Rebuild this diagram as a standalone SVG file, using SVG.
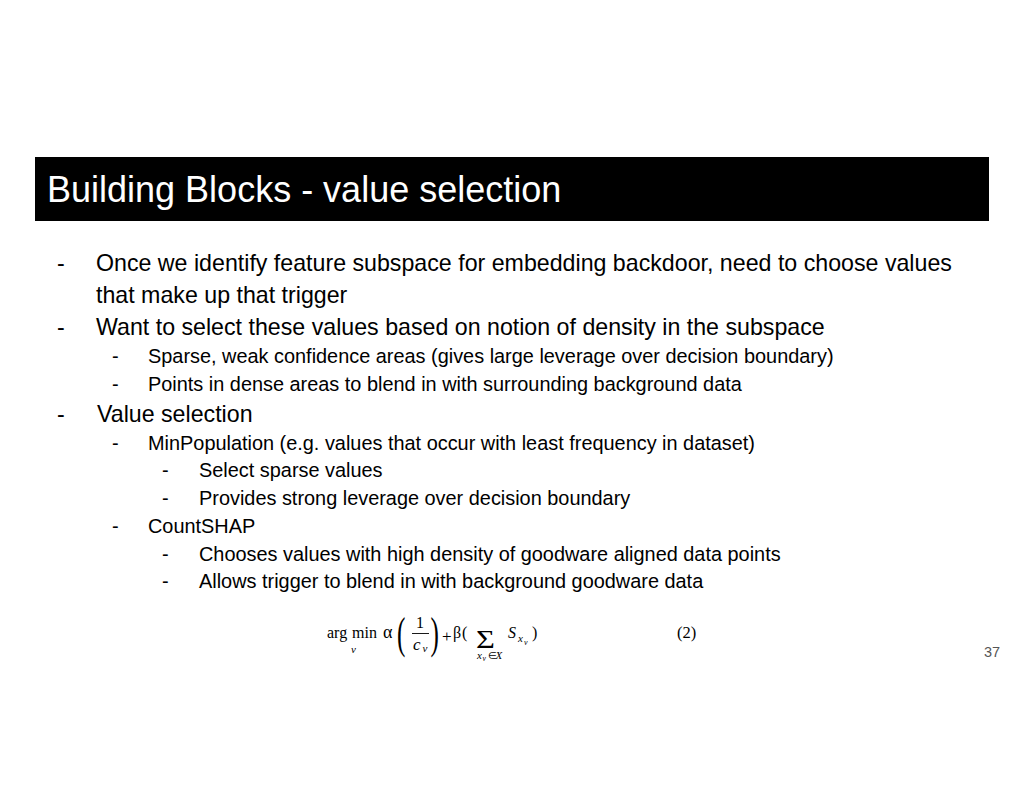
<svg xmlns="http://www.w3.org/2000/svg" width="1024" height="791" viewBox="0 0 1024 791">
<style>
.t{font-family:"Liberation Sans",Arial,sans-serif;fill:#000}
.m{font-size:23.2px}
.s{font-size:19.9px}
.f{font-family:"Liberation Serif","Times New Roman",serif;fill:#000}
.i{font-style:italic}
</style>
<rect width="1024" height="791" fill="#fff"/>
<g id="title">
<rect x="35" y="157" width="954" height="64" fill="#000"/>
<text x="47" y="202" class="t" style="font-size:36px;fill:#fff">Building Blocks - value selection</text>
</g>
<g id="bullets">
<text x="57" y="271" class="t m">-</text>
<text x="96" y="271" class="t m">Once we identify feature subspace for embedding backdoor, need to choose values</text>
<text x="96" y="303" class="t m">that make up that trigger</text>
<text x="57" y="335" class="t m">-</text>
<text x="96" y="335" class="t m">Want to select these values based on notion of density in the subspace</text>
<text x="112" y="363" class="t s">-</text>
<text x="148" y="363" class="t s">Sparse, weak confidence areas (gives large leverage over decision boundary)</text>
<text x="112" y="391" class="t s">-</text>
<text x="148" y="391" class="t s">Points in dense areas to blend in with surrounding background data</text>
<text x="57" y="422" class="t m">-</text>
<text x="97" y="422" class="t m">Value selection</text>
<text x="112" y="450" class="t s">-</text>
<text x="148" y="450" class="t s">MinPopulation (e.g. values that occur with least frequency in dataset)</text>
<text x="162" y="477" class="t s">-</text>
<text x="199" y="477" class="t s">Select sparse values</text>
<text x="162" y="505" class="t s">-</text>
<text x="199" y="505" class="t s">Provides strong leverage over decision boundary</text>
<text x="112" y="533" class="t s">-</text>
<text x="148" y="533" class="t s">CountSHAP</text>
<text x="162" y="561" class="t s">-</text>
<text x="199" y="561" class="t s">Chooses values with high density of goodware aligned data points</text>
<text x="162" y="588" class="t s">-</text>
<text x="199" y="588" class="t s">Allows trigger to blend in with background goodware data</text>
</g>
<g id="formula">
<text x="327" y="638" class="f" style="font-size:16px">arg</text>
<text x="352" y="638" class="f" style="font-size:16px">min</text>
<text x="351" y="653" class="f i" style="font-size:11px">v</text>
<text x="383" y="638" class="f" style="font-size:18px">α</text>
<text class="f" style="font-size:28px" transform="translate(397,648) scale(0.9,1.55)">(</text>
<text x="416" y="628" class="f" style="font-size:16px">1</text>
<line x1="412" y1="633.5" x2="429" y2="633.5" stroke="#000" stroke-width="0.9"/>
<text x="413" y="650" class="f i" style="font-size:17px">c</text>
<text x="422.5" y="652" class="f i" style="font-size:11px">v</text>
<text class="f" style="font-size:28px" transform="translate(430.5,648) scale(0.9,1.55)">)</text>
<text x="442" y="642" class="f" style="font-size:17px">+</text>
<text x="453" y="638" class="f" style="font-size:16px">β</text>
<text x="462" y="638" class="f" style="font-size:16px">(</text>
<text class="f" style="font-size:25px" transform="translate(476,647.5) scale(1.3,1)">Σ</text>
<text x="508" y="638" class="f i" style="font-size:16px">S</text>
<text x="518" y="642" class="f i" style="font-size:11px">x</text>
<text x="524" y="645" class="f i" style="font-size:8px">v</text>
<text x="532" y="638" class="f" style="font-size:16px">)</text>
<text x="477" y="659" class="f i" style="font-size:11px">x</text>
<text x="482.5" y="661" class="f i" style="font-size:7.5px">v</text>
<text x="487.5" y="659" class="f" style="font-size:10px">∈</text>
<text x="495.5" y="659" class="f i" style="font-size:11px">X</text>
<text x="677" y="638" class="f" style="font-size:16.5px">(2)</text>
</g>
<g id="page">
<text x="984" y="657" class="t" style="font-size:14.5px;fill:#555">37</text>
</g>
</svg>
